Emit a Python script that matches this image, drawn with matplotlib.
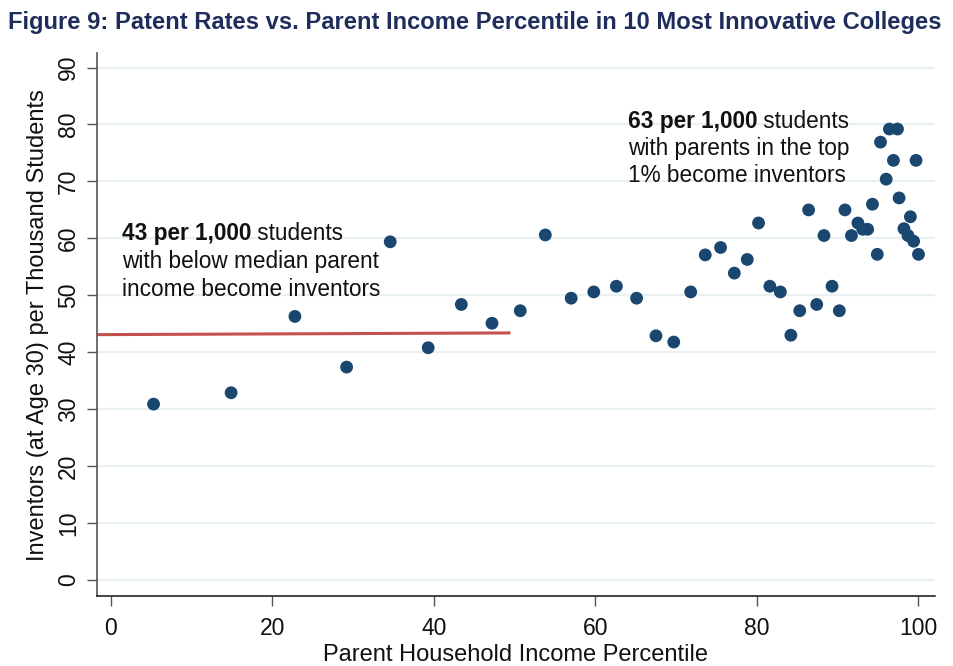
import matplotlib.pyplot as plt

plt.rcParams['font.family'] = ['Liberation Sans', 'DejaVu Sans']

# parent income percentile vs inventors per thousand students
pctile = [5.3, 14.9, 22.8, 29.2, 34.6, 39.3, 43.4, 47.2, 50.7, 53.8,
          57.0, 59.8, 62.6, 65.1, 67.5, 69.7, 71.8, 73.6, 75.5, 77.2,
          78.8, 80.2, 81.6, 82.9, 84.2, 85.3, 86.4, 87.4, 88.3, 89.3,
          90.2, 90.9, 91.7, 92.5, 93.1, 93.7, 94.3, 94.9, 95.3, 96.0,
          96.4, 96.9, 97.4, 97.6, 98.2, 98.7, 99.0, 99.4, 99.7, 100.0]
inventors = [30.9, 32.9, 46.3, 37.4, 59.4, 40.8, 48.4, 45.1, 47.3, 60.6,
             49.5, 50.6, 51.6, 49.5, 42.9, 41.8, 50.6, 57.1, 58.4, 53.9,
             56.3, 62.7, 51.6, 50.6, 43.0, 47.3, 65.0, 48.4, 60.5, 51.6,
             47.3, 65.0, 60.5, 62.7, 61.6, 61.6, 66.0, 57.2, 76.9, 70.4,
             79.2, 73.7, 79.2, 67.1, 61.7, 60.5, 63.8, 59.5, 73.7, 57.2]

# below-median average line
below_x = [-1.7, 49.3]
below_y = [43.1, 43.4]

navy = '#1a476f'
red = '#c4504d'
grid_col = '#e8f0f2'

fig = plt.figure(figsize=(9.54, 6.66), dpi=100)
ax = fig.add_axes([0.1017, 0.105, 0.878, 0.815])

ax.set_xlim(-1.7, 102)
ax.set_ylim(-2.8, 92.5)
ax.set_yticks(range(0, 91, 10))
ax.set_xticks(range(0, 101, 20))
ax.yaxis.grid(True, color=grid_col, linewidth=1.6)
ax.set_axisbelow(True)

ax.plot(below_x, below_y, color=red, linewidth=2.2, zorder=2)
ax.scatter(pctile, inventors, s=85, color=navy, edgecolors='none', zorder=3)

for side in ['top', 'right']:
    ax.spines[side].set_visible(False)
ax.spines['left'].set_color('#555555')
ax.spines['left'].set_linewidth(1.2)
ax.spines['bottom'].set_color('#111111')
ax.spines['bottom'].set_linewidth(1.1)

ax.tick_params(axis='both', colors='#555555', length=7, width=1.0,
               labelsize=16.5, labelcolor='#111111')
ax.tick_params(axis='y', pad=5)
ax.tick_params(axis='x', pad=8)
plt.setp(ax.get_yticklabels(), rotation=90, va='center')

ax.set_xlabel('Parent Household Income Percentile', fontsize=17, color='#111111', labelpad=3)
ax.set_ylabel('Inventors (at Age 30) per Thousand Students', fontsize=17,
              color='#111111', labelpad=6)

fig.text(0.008, 0.966, 'Figure 9: Patent Rates vs. Parent Income Percentile in 10 Most Innovative Colleges',
         fontsize=17.1, fontweight='bold', color='#1f2d5c', va='center', ha='left')

# annotations
def label_block(x, ys, bold, rest, lines):
    b = ax.text(x, ys[0], bold, fontsize=16.3, fontweight='bold', va='center', color='#111111')
    ax.annotate(rest, xy=(1, 0), xycoords=b, va='bottom', ha='left',
                fontsize=16.3, color='#111111')
    for yy, ln in zip(ys[1:], lines):
        ax.text(x, yy, ln, fontsize=16.3, va='center', color='#111111')

label_block(1.4, [60.9, 55.9, 51.1], '43 per 1,000', ' students',
            ['with below median parent', 'income become inventors'])
label_block(64.0, [80.5, 75.8, 71.1], '63 per 1,000', ' students',
            ['with parents in the top', '1% become inventors'])

plt.savefig('out.png', dpi=100)
